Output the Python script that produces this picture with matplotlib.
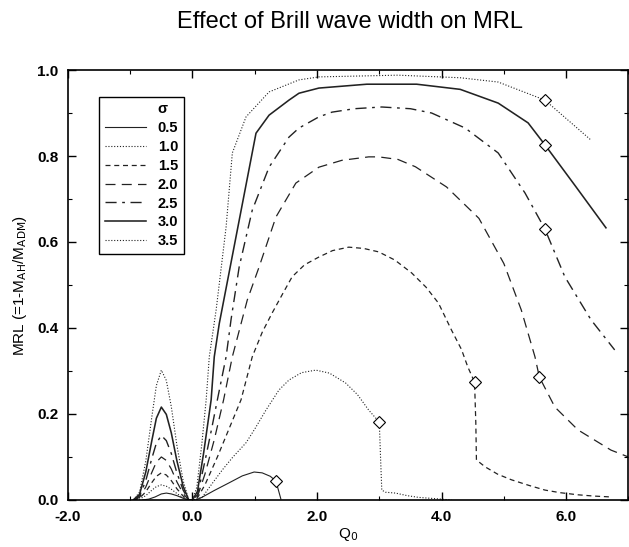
import matplotlib
matplotlib.use('Agg')
import matplotlib.pyplot as plt
from matplotlib.lines import Line2D
from matplotlib.ticker import MultipleLocator

plt.rcParams['font.family'] = ['Liberation Sans', 'DejaVu Sans']

# Brill wave width sigma and the MRL curves
sigmas = ['0.5', '1.0', '1.5', '2.0', '2.5', '3.0', '3.5']

q_05 = [-0.8, -0.7, -0.6, -0.5, -0.42, -0.34, -0.25, -0.15, -0.06, 0.05, 0.15, 0.35, 0.59, 0.8, 0.99, 1.12, 1.25, 1.34, 1.42]
mrl_05 = [0.0, 0.002, 0.007, 0.014, 0.016, 0.014, 0.01, 0.004, 0.0, 0.0, 0.006, 0.022, 0.04, 0.056, 0.065, 0.063, 0.055, 0.044, 0.002]

q_10 = [-0.95, -0.85, -0.75, -0.65, -0.58, -0.5, -0.42, -0.34, -0.25, -0.15, -0.06, 0.0, 0.08, 0.16, 0.3, 0.48, 0.65,
        0.86, 1.0, 1.18, 1.39, 1.55, 1.75, 1.98, 2.2, 2.46, 2.65, 2.83, 3.0, 3.02, 3.04, 3.1, 3.26, 3.45, 3.63, 3.9, 4.16]
mrl_10 = [0.0, 0.002, 0.01, 0.023, 0.031, 0.035, 0.032, 0.025, 0.015, 0.005, 0.0, 0.0, 0.002, 0.007, 0.035, 0.07, 0.1,
          0.133, 0.165, 0.209, 0.256, 0.279, 0.296, 0.302, 0.295, 0.272, 0.245, 0.209, 0.181, 0.1, 0.023, 0.018, 0.016, 0.01,
          0.006, 0.003, 0.0]

q_15 = [-0.95, -0.85, -0.75, -0.65, -0.58, -0.5, -0.42, -0.34, -0.25, -0.15, -0.06, 0.0, 0.08, 0.2, 0.4, 0.6, 0.78,
        0.96, 1.12, 1.28, 1.45, 1.6, 1.8, 2.03, 2.25, 2.51, 2.75, 2.99, 3.25, 3.52, 3.75, 3.95, 4.16, 4.32, 4.42, 4.53,
        4.55, 4.56, 4.7, 4.9, 5.12, 5.4, 5.66, 5.9, 6.19, 6.45, 6.72]
mrl_15 = [0.0, 0.004, 0.019, 0.041, 0.055, 0.063, 0.058, 0.045, 0.026, 0.009, 0.0, 0.0, 0.005, 0.035, 0.1, 0.17, 0.233,
          0.333, 0.39, 0.435, 0.48, 0.519, 0.547, 0.565, 0.58, 0.588, 0.585, 0.577, 0.558, 0.528, 0.495, 0.458, 0.395, 0.35,
          0.31, 0.274, 0.18, 0.093, 0.077, 0.06, 0.047, 0.034, 0.023, 0.017, 0.012, 0.009, 0.007]

q_20 = [-0.95, -0.85, -0.75, -0.65, -0.58, -0.5, -0.42, -0.34, -0.25, -0.15, -0.06, 0.0, 0.08, 0.2, 0.35, 0.5, 0.64,
        0.88, 1.07, 1.34, 1.66, 2.03, 2.4, 2.83, 2.99, 3.3, 3.58, 4.08, 4.6, 5.0, 5.28, 5.5, 5.57, 5.82, 6.19, 6.72, 7.0]
mrl_20 = [0.0, 0.006, 0.03, 0.065, 0.088, 0.1, 0.092, 0.072, 0.042, 0.015, 0.0, 0.0, 0.008, 0.06, 0.14, 0.233, 0.333,
          0.465, 0.542, 0.658, 0.737, 0.774, 0.79, 0.798, 0.798, 0.792, 0.775, 0.728, 0.655, 0.55, 0.442, 0.333, 0.286,
          0.216, 0.163, 0.116, 0.1]

q_25 = [-0.95, -0.85, -0.75, -0.65, -0.58, -0.5, -0.42, -0.34, -0.25, -0.15, -0.06, 0.0, 0.08, 0.2, 0.3, 0.4, 0.54,
        0.62, 0.75, 0.96, 1.23, 1.55, 1.71, 2.03, 2.24, 2.6, 3.04, 3.5, 3.84, 4.38, 4.91, 5.34, 5.66, 5.98, 6.4, 6.78]
mrl_25 = [0.0, 0.009, 0.045, 0.098, 0.132, 0.15, 0.138, 0.108, 0.063, 0.023, 0.0, 0.0, 0.012, 0.09, 0.16, 0.233, 0.333,
          0.42, 0.542, 0.674, 0.774, 0.844, 0.865, 0.891, 0.902, 0.91, 0.914, 0.91, 0.9, 0.865, 0.807, 0.714, 0.63, 0.519,
          0.419, 0.349]

q_30 = [-0.95, -0.85, -0.75, -0.65, -0.58, -0.5, -0.42, -0.34, -0.25, -0.15, -0.06, 0.0, 0.08, 0.18, 0.3, 0.35, 0.43,
        1.02, 1.23, 1.55, 1.71, 2.03, 2.8, 3.6, 4.3, 4.91, 5.39, 5.66, 6.15, 6.64]
mrl_30 = [0.0, 0.013, 0.065, 0.14, 0.19, 0.216, 0.199, 0.156, 0.091, 0.032, 0.0, 0.0, 0.02, 0.11, 0.233, 0.333, 0.41,
          0.853, 0.895, 0.93, 0.946, 0.958, 0.967, 0.967, 0.955, 0.923, 0.877, 0.826, 0.73, 0.633]

q_35 = [-0.95, -0.85, -0.75, -0.65, -0.58, -0.5, -0.42, -0.34, -0.25, -0.15, -0.06, 0.0, 0.07, 0.15, 0.22, 0.27, 0.38,
        0.54, 0.64, 0.86, 1.23, 1.71, 2.03, 3.3, 4.3, 4.91, 5.66, 6.4]
mrl_35 = [0.0, 0.018, 0.09, 0.196, 0.266, 0.302, 0.278, 0.217, 0.127, 0.045, 0.0, 0.0, 0.03, 0.13, 0.233, 0.333, 0.442,
          0.635, 0.807, 0.891, 0.949, 0.977, 0.984, 0.988, 0.982, 0.972, 0.93, 0.837]

# diamonds on each curve
diamond_q = [1.34, 3.0, 4.53, 5.57, 5.66, 5.66, 5.66]
diamond_mrl = [0.044, 0.181, 0.274, 0.286, 0.63, 0.826, 0.93]

curves = [(q_05, mrl_05), (q_10, mrl_10), (q_15, mrl_15), (q_20, mrl_20),
          (q_25, mrl_25), (q_30, mrl_30), (q_35, mrl_35)]
styles = [dict(ls='-', lw=0.8),
          dict(ls=(0, (1, 1.6)), lw=0.8),
          dict(ls=(0, (4, 3)), lw=0.9),
          dict(ls=(0, (8, 5)), lw=0.9),
          dict(ls=(0, (8, 4, 2, 4)), lw=1.0),
          dict(ls='-', lw=1.15),
          dict(ls=(0, (1, 1.6)), lw=0.8)]

fig = plt.figure(figsize=(6.29, 5.47), dpi=100)
ax = fig.add_axes([0.108, 0.086, 0.891, 0.786])

handles = [Line2D([], [], ls='none', label='\u03c3')]
for (q, m), st, s in zip(curves, styles, sigmas):
    ln, = ax.plot(q, m, color='#222222', label=s, **st)
    handles.append(ln)

ax.plot(diamond_q, diamond_mrl, ls='none', marker='D', ms=6, mfc='white', mec='black', mew=0.8)

ax.set_xlim(-2.0, 7.0)
ax.set_ylim(0.0, 1.0)
ax.xaxis.set_major_locator(MultipleLocator(2.0))
ax.xaxis.set_minor_locator(MultipleLocator(1.0))
ax.yaxis.set_major_locator(MultipleLocator(0.2))
ax.yaxis.set_minor_locator(MultipleLocator(0.1))
ax.xaxis.set_major_formatter(lambda v, p: f'{v:.1f}')
ax.yaxis.set_major_formatter(lambda v, p: f'{v:.1f}')
ax.tick_params(which='both', direction='in', top=True, right=True)
ax.tick_params(which='major', length=6, width=1.0, labelsize=11, pad=7)
ax.tick_params(which='minor', length=3, width=0.8)
for lab in ax.get_xticklabels() + ax.get_yticklabels():
    lab.set_fontweight('bold')
for sp in ax.spines.values():
    sp.set_linewidth(1.2)

ax.set_xlabel('Q$_\\mathrm{0}$', fontsize=11, labelpad=2)
ax.set_ylabel('MRL (=1-M$_\\mathrm{AH}$/M$_\\mathrm{ADM}$)', fontsize=11, labelpad=6)

leg = ax.legend(handles=handles, loc='upper left', bbox_to_anchor=(0.043, 0.955),
                fontsize=10.5, handlelength=2.8, handletextpad=0.8, labelspacing=0.33,
                borderpad=0.4, fancybox=False, framealpha=1, edgecolor='black')
leg.get_frame().set_linewidth(1.0)
for t in leg.get_texts():
    t.set_fontweight('bold')

fig.text(0.556, 1 - 22 / 547, 'Effect of Brill wave width on MRL', ha='center', va='center', fontsize=17)

fig.savefig('out.png', dpi=100)
